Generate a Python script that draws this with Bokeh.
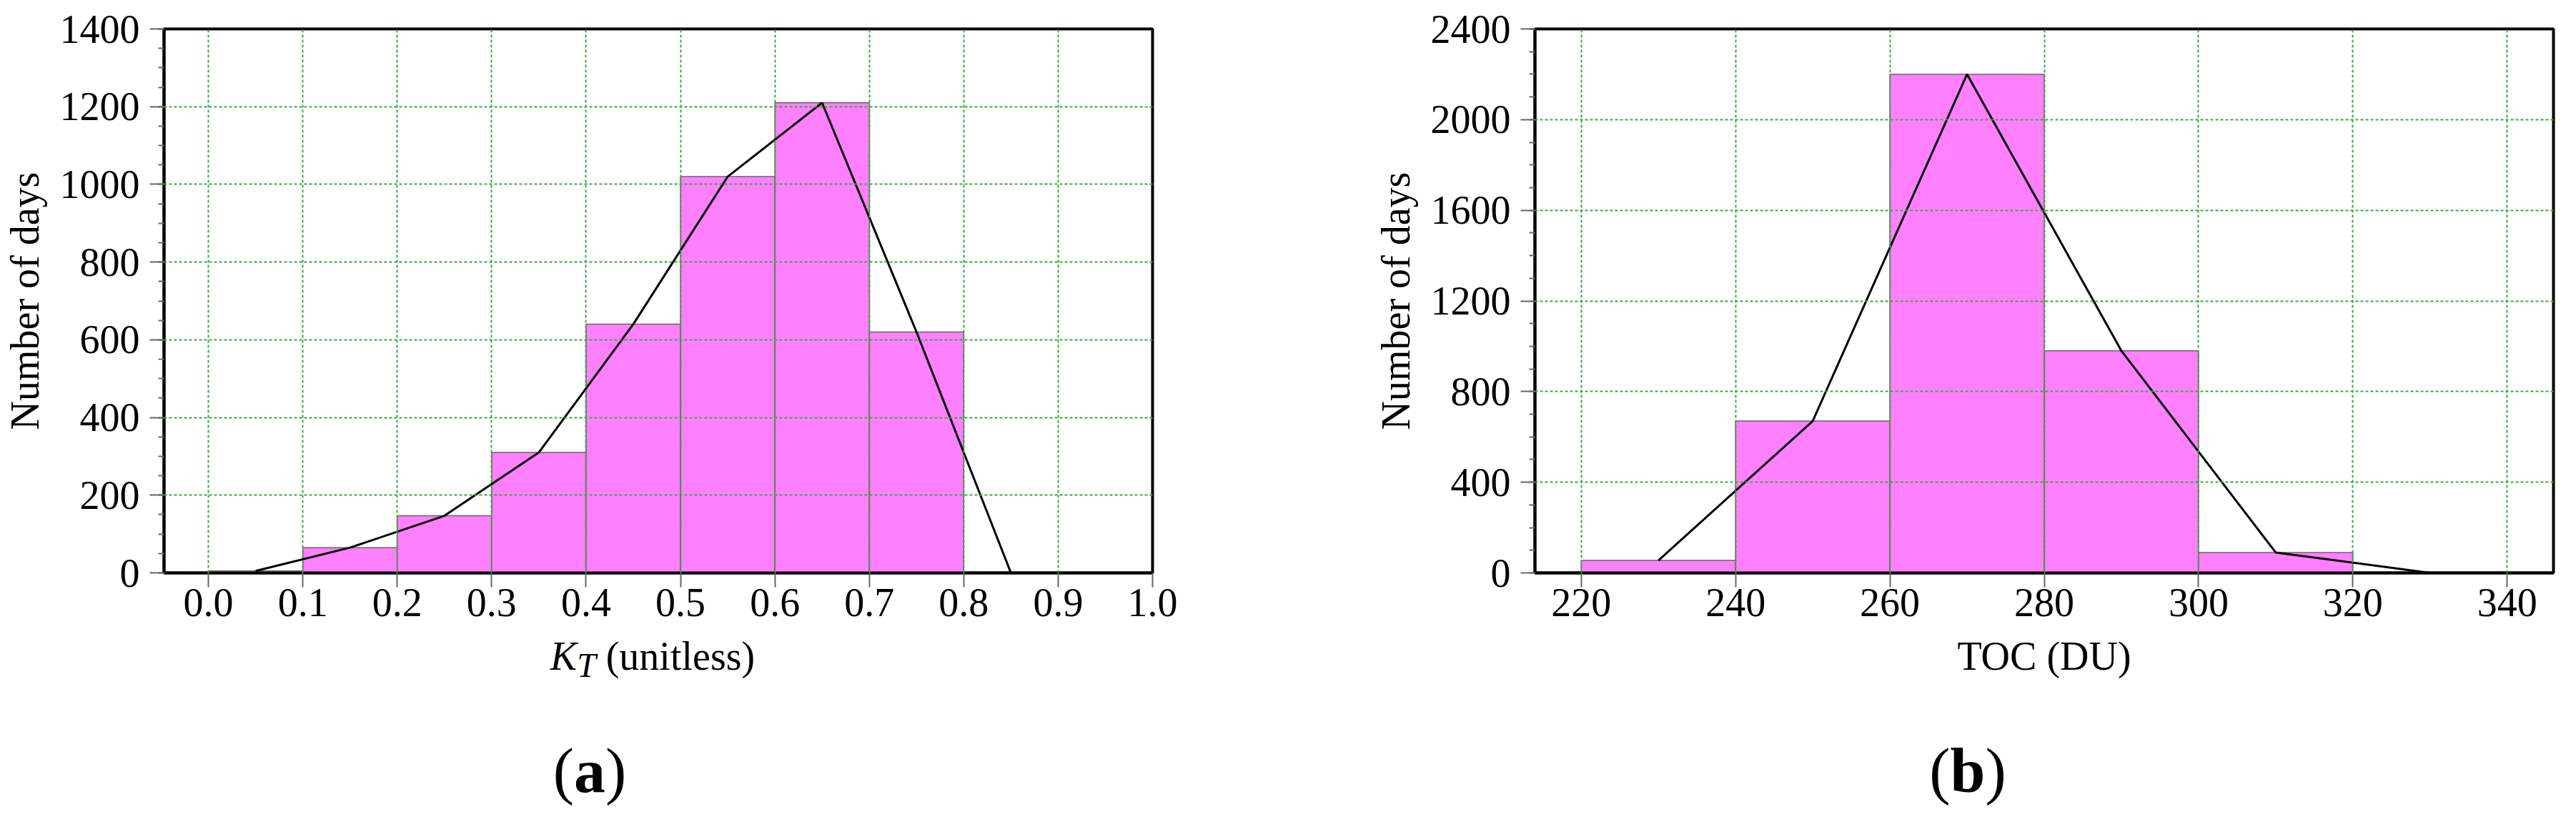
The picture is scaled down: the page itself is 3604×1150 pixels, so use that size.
from bokeh.plotting import figure
from bokeh.models import Range1d, FixedTicker, NumeralTickFormatter, Div
from bokeh.layouts import row, column
from bokeh.embed import file_html
from bokeh.resources import INLINE

# (a) clearness index K_T histogram
kt_edges = [0.0, 0.1, 0.2, 0.3, 0.4, 0.5, 0.6, 0.7, 0.8, 0.9]
kt_counts = [5, 65, 147, 310, 640, 1020, 1210, 620, 0]
kt_xticks = [0.0, 0.1, 0.2, 0.3, 0.4, 0.5, 0.6, 0.7, 0.8, 0.9, 1.0]
kt_yticks = [0, 200, 400, 600, 800, 1000, 1200, 1400]
kt_yminor = list(range(0, 1401, 50))

# (b) total ozone column histogram
toc_edges = [220, 240, 260, 280, 300, 320, 340]
toc_counts = [55, 670, 2200, 980, 90, 0]
toc_xticks = [220, 240, 260, 280, 300, 320, 340]
toc_yticks = [0, 400, 800, 1200, 1600, 2000, 2400]
toc_yminor = list(range(0, 2401, 100))

SERIF = "Liberation Serif"
FIG_H = 891
CAP_H = 243


def make_panel(edges, counts, xr, yr, xticks, yticks, yminor, fmt, width, bl, br):
    p = figure(width=width, height=FIG_H, x_range=Range1d(*xr), y_range=Range1d(*yr),
               output_backend="svg", toolbar_location=None,
               min_border_left=bl, min_border_right=br,
               min_border_top=40, min_border_bottom=90)
    p.background_fill_color = "white"
    p.border_fill_color = "white"
    p.outline_line_color = "black"
    p.outline_line_width = 4
    p.outline_line_alpha = 1.0

    lefts = edges[:-1]
    rights = edges[1:]
    p.quad(left=lefts, right=rights, top=counts, bottom=0,
           fill_color="#ff80ff", line_color="#666666", line_width=1.5)
    mids = [(a + b) / 2 for a, b in zip(lefts, rights)]
    p.line(mids, counts, line_color="black", line_width=3)

    p.xaxis.ticker = FixedTicker(ticks=xticks)
    p.xaxis.formatter = NumeralTickFormatter(format=fmt)
    p.yaxis.ticker = FixedTicker(ticks=yticks, minor_ticks=yminor)
    p.yaxis.axis_label = "Number of days"

    for ax in (p.xaxis[0], p.yaxis[0]):
        ax.axis_line_color = "black"
        ax.axis_line_width = 4
        ax.major_tick_line_color = "#666666"
        ax.major_tick_line_width = 2
        ax.major_tick_in = 0
        ax.major_tick_out = 20
        ax.major_label_text_font = SERIF
        ax.major_label_text_font_size = "56px"
        ax.major_label_text_color = "black"
        ax.axis_label_text_font = SERIF
        ax.axis_label_text_font_size = "56px"
        ax.axis_label_text_font_style = "normal"
        ax.axis_label_text_color = "black"

    p.xaxis.minor_tick_line_color = None
    p.xaxis.major_label_standoff = 2
    p.yaxis.minor_tick_in = 0
    p.yaxis.minor_tick_out = 8
    p.yaxis.minor_tick_line_color = "#666666"
    p.yaxis.minor_tick_line_width = 2
    p.yaxis.major_label_standoff = 14
    p.yaxis.axis_label_standoff = 15

    p.grid.grid_line_color = "#3aaa3a"
    p.grid.grid_line_width = 2
    p.grid.grid_line_dash = "4 3"
    p.grid.level = "guide"
    return p


def caption(width, label_html, label_cx, panel, panel_cx):
    html = (
        f'<div style="position:relative;width:{width}px;height:{CAP_H}px;'
        f'font-family:\'{SERIF}\';color:black;">'
        f'<div style="position:absolute;left:{label_cx}px;top:-1px;transform:translateX(-50%);'
        f'white-space:nowrap;font-size:56px;line-height:56px;">{label_html}</div>'
        f'<div style="position:absolute;left:{panel_cx}px;top:144px;transform:translateX(-50%);'
        f'white-space:nowrap;font-size:88px;line-height:88px;">(<b>{panel}</b>)</div>'
        '</div>'
    )
    return Div(text=html, width=width, height=CAP_H, margin=0)


p1 = make_panel(kt_edges, kt_counts, (-0.047, 1.0), (0, 1400), kt_xticks, kt_yticks,
                kt_yminor, "0.0", 1917, 219, 305)
p2 = make_panel(toc_edges, toc_counts, (214, 346), (0, 2400), toc_xticks, toc_yticks,
                toc_yminor, "0", 1671, 230, 16)

kt_label = ('<i>K</i><span style="font-style:italic;font-size:0.85em;position:relative;'
            'top:0.22em;">T</span> (unitless)')
d1 = caption(1917, kt_label, 913, "a", 825)
d2 = caption(1671, "TOC (DU)", 943, "b", 836)

layout = row(column(p1, d1), column(p2, d2))

open("out.html", "w").write(file_html(layout, INLINE))
